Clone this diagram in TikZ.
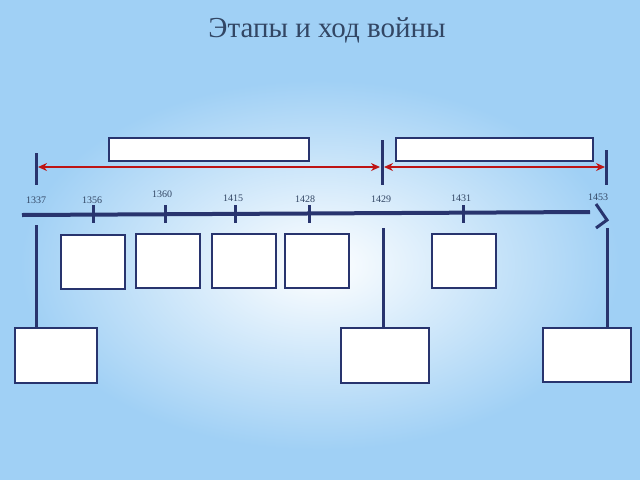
\documentclass[tikz,border=0pt]{standalone}
\usepackage{fontspec}
\setmainfont{Liberation Serif}
\usetikzlibrary{arrows.meta}
\definecolor{bgblue}{RGB}{160,208,245}
\definecolor{navy}{RGB}{40,52,110}
\definecolor{dred}{RGB}{190,20,20}
\definecolor{ttl}{RGB}{50,70,100}
\begin{document}
\begin{tikzpicture}[x=1pt,y=-1pt,
 box/.style={draw=navy,line width=1.6pt,fill=white,inner sep=0pt,anchor=north west},
 yr/.style={font=\fontsize{10}{11}\selectfont,text=ttl},
 tick/.style={draw=navy,line width=3pt},
 red/.style={draw=dred,line width=1.4pt,{Stealth[length=9pt,width=8pt]}-{Stealth[length=9pt,width=8pt]}}]
\useasboundingbox (0,0) rectangle (640,480);
\fill[bgblue] (0,0) rectangle (640,480);
\begin{scope}
\clip (0,0) rectangle (640,480);
\shade[inner color=white,outer color=bgblue] (320,265) ellipse (300 and 185);
\end{scope}
\node[text=ttl,font=\fontsize{29}{32}\selectfont] (title) at (327,30) {Этапы и ход войны};
% main line
\coordinate (L) at (22,215); \coordinate (R) at (590,212);
\draw[navy,line width=4pt] (L) -- (R);
\coordinate (c1) at (596,204); \coordinate (c2) at (607,220); \coordinate (c3) at (596,228);
\draw[navy,line width=3pt] (c1) -- (c2) -- (c3);
% big ticks
\foreach \n/\x/\t in {a/36/153,b/382/140,c/606/150}{
 \coordinate (\n t) at (\x,\t); \coordinate (\n m) at (\x,185);
 \draw[tick] (\n t) -- (\n m);}
\foreach \n/\x in {d/93,e/165,f/235,g/309,h/463}{
 \coordinate (\n1) at (\x,205); \coordinate (\n2) at (\x,223);
 \draw[tick] (\n1) -- (\n2);}
% years
\node[yr] (y1) at (36,200) {1337};
\node[yr] (y2) at (92,200) {1356};
\node[yr] (y3) at (162,194) {1360};
\node[yr] (y4) at (233,198) {1415};
\node[yr] (y5) at (305,199) {1428};
\node[yr] (y6) at (381,199) {1429};
\node[yr] (y7) at (461,198) {1431};
\node[yr] (y8) at (598,197) {1453};
% red arrows
\coordinate (r1) at (38,167); \coordinate (r2) at (380,167);
\coordinate (r3) at (384,167); \coordinate (r4) at (605,167);
\draw[red] (r1) -- (r2);
\draw[red] (r3) -- (r4);
% boxes
\node[box,minimum width=200pt,minimum height=23pt] (t1) at (108,137) {};
\node[box,minimum width=197pt,minimum height=23pt] (t2) at (395,137) {};
\foreach \n/\x/\y in {s1/60/234,s2/135/233,s3/211/233,s4/284/233,s5/431/233}
 \node[box,minimum width=64pt,minimum height=54pt] (\n) at (\x,\y) {};
\node[box,minimum width=82pt,minimum height=55pt] (b1) at (14,327) {};
\node[box,minimum width=88pt,minimum height=55pt] (b2) at (340,327) {};
\node[box,minimum width=88pt,minimum height=54pt] (b3) at (542,327) {};
% verticals down
\coordinate (a3) at (36,225); \coordinate (b3t) at (383,228); \coordinate (c3t) at (607,228);
\draw[tick] (a3) -- (a3 |- b1.north);
\draw[tick] (b3t) -- (b3t |- b2.north);
\draw[tick] (c3t) -- (c3t |- b3.north);
\end{tikzpicture}
\end{document}
